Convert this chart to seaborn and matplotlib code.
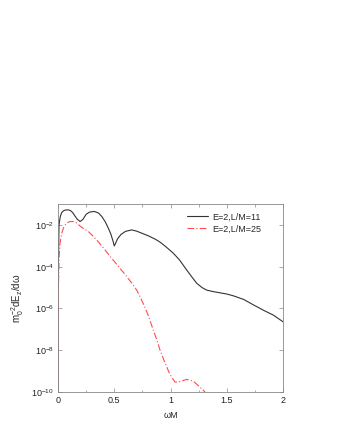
import numpy as np
import pandas as pd
import seaborn as sns
import matplotlib
matplotlib.use('Agg')
import matplotlib.pyplot as plt
from matplotlib.ticker import FixedLocator, MultipleLocator, NullLocator

# values (log scale y)
x_l11 = [0.0, 0.003, 0.009, 0.02, 0.033, 0.05, 0.07, 0.092, 0.11, 0.13, 0.15, 0.17,
         0.196, 0.22, 0.25, 0.28, 0.323, 0.36, 0.39, 0.42, 0.45, 0.47, 0.49, 0.50,
         0.51, 0.53, 0.56, 0.6, 0.655, 0.7, 0.75, 0.803, 0.862, 0.907, 0.96, 1.025,
         1.08, 1.144, 1.19, 1.233, 1.28, 1.32, 1.38, 1.44, 1.5, 1.56, 1.65, 1.74,
         1.83, 1.914, 2.0]
y_l11 = [1e-10, 1e-4, 1e-2, 2.5e-2, 3.9e-2, 4.8e-2, 5.2e-2, 5.25e-2, 4.9e-2, 3.9e-2,
         2.7e-2, 1.9e-2, 1.45e-2, 1.8e-2, 3.2e-2, 4.1e-2, 4.4e-2, 3.7e-2, 2.5e-2,
         1.4e-2, 6.5e-3, 3.6e-3, 1.6e-3, 9.8e-4, 1.25e-3, 2.2e-3, 3.5e-3, 4.9e-3,
         5.75e-3, 5.0e-3, 3.9e-3, 3.0e-3, 2.1e-3, 1.5e-3, 8.9e-4, 4.4e-4,
         2.1e-4, 6.9e-5, 3.2e-5, 1.6e-5, 1.0e-5, 7.6e-6, 6.4e-6, 5.6e-6, 4.9e-6,
         4.0e-6, 2.7e-6, 1.45e-6, 8.0e-7, 4.8e-7, 2.3e-7]

x_l25 = [0.0, 0.004, 0.01, 0.018, 0.033, 0.05, 0.07, 0.09, 0.11, 0.136, 0.16, 0.2,
         0.24, 0.27, 0.32, 0.37, 0.418, 0.47, 0.551, 0.6, 0.65, 0.7, 0.729, 0.758,
         0.8, 0.847, 0.88, 0.907, 0.94, 0.966, 0.99, 1.01, 1.04, 1.07, 1.1, 1.144,
         1.2, 1.262, 1.307]
y_l25 = [1e-10, 1e-5, 3e-4, 1.35e-3, 4.0e-3, 7.5e-3, 1.1e-2, 1.35e-2, 1.45e-2,
         1.45e-2, 1.3e-2, 8.5e-3, 6.0e-3, 4.8e-3, 2.6e-3, 1.3e-3, 6.3e-4, 2.8e-4,
         8.3e-5, 4.0e-5, 1.8e-5, 7.5e-6, 3.6e-6, 1.7e-6, 5.0e-7, 9.1e-8, 3.0e-8,
         1.0e-8, 3.5e-9, 1.6e-9, 8.0e-10, 5.2e-10, 3.0e-10, 3.0e-10, 3.4e-10,
         4.0e-10, 3.4e-10, 1.7e-10, 1.0e-10]

x_ticks = [0, 0.5, 1, 1.5, 2]
x_ticklabels = ['0', '0.5', '1', '1.5', '2']
labels = ['E=2,L/M=11', 'E=2,L/M=25']

sns.set_style('ticks')
plt.rcParams['font.family'] = ['Liberation Sans', 'DejaVu Sans']
plt.rcParams['mathtext.fontset'] = 'custom'
plt.rcParams['mathtext.rm'] = 'Liberation Sans'
plt.rcParams['mathtext.it'] = 'Liberation Sans'

fig = plt.figure(figsize=(3.42, 4.43), dpi=100)
ax = fig.add_axes([0.1696, 0.1151, 0.658, 0.4244])

sns.lineplot(x=x_l11, y=y_l11, ax=ax, color='#333333', lw=0.8, label=labels[0],
             sort=False, estimator=None)
sns.lineplot(x=x_l25, y=y_l25, ax=ax, color='#ff4d4d', lw=0.8, label=labels[1],
             sort=False, estimator=None, linestyle=(0, (6, 2, 1, 2)))

ax.set_yscale('log')
ax.set_xlim(0, 2)
ax.set_ylim(1e-10, 1e-1)
ax.yaxis.set_major_locator(FixedLocator([1e-10, 1e-8, 1e-6, 1e-4, 1e-2]))
ax.yaxis.set_minor_locator(NullLocator())
ax.set_xticks(x_ticks)
ax.set_xticklabels(x_ticklabels)
ax.xaxis.set_minor_locator(MultipleLocator(0.25))

ax.tick_params(which='both', direction='in', top=True, right=True,
               labelsize=6.5, colors='#222222', pad=3)
ax.tick_params(which='major', length=3, width=0.5, color='#888888')
ax.tick_params(which='minor', length=1.8, width=0.5, color='#888888')
for s in ax.spines.values():
    s.set_color('#888888')
    s.set_linewidth(0.6)

ax.set_xlabel('ωM', fontsize=6.5, labelpad=4)
ax.set_ylabel(r'm$_0^{-2}$dE$_z$/dω', fontsize=7, labelpad=4)

ax.legend(loc='upper left', bbox_to_anchor=(0.573, 0.955), frameon=False,
          borderaxespad=0, borderpad=0, fontsize=6.5, handlelength=2.3,
          handletextpad=0.5, labelspacing=0.35)

fig.savefig('out.png', dpi=100)
